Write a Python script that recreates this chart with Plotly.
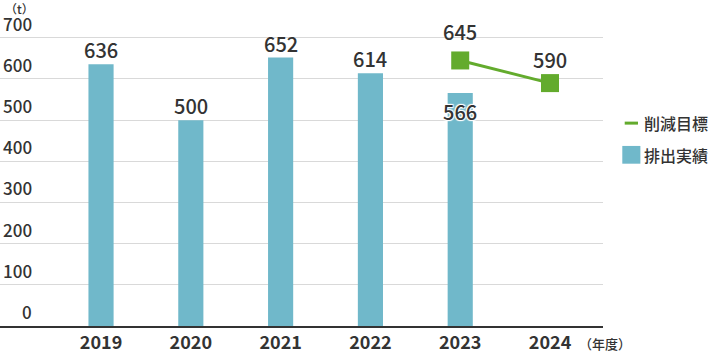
import plotly.graph_objects as go

years = ["2019", "2020", "2021", "2022", "2023", "2024"]
bar_years = ["2019", "2020", "2021", "2022", "2023"]
bar_values = [636, 500, 652, 614, 566]
target_years = ["2023", "2024"]
target_values = [645, 590]
y_ticks = [0, 100, 200, 300, 400, 500, 600, 700]

BLUE = "#70b8ca"
GREEN = "#63ab2d"
TXT = "#333333"
FONT = "Noto Sans CJK JP"
FONT_M = "Noto Sans CJK JP Medium, Noto Sans CJK JP"

fig = go.Figure()
fig.add_trace(go.Bar(x=bar_years, y=bar_values, marker=dict(color=BLUE, line=dict(width=0)),
                     width=0.28, name="排出実績", showlegend=False, hoverinfo="skip"))
fig.add_trace(go.Scatter(x=target_years, y=target_values, mode="lines+markers",
                         line=dict(color=GREEN, width=3),
                         marker=dict(symbol="square", size=18, color=GREEN, line=dict(width=0)),
                         name="削減目標", showlegend=False, hoverinfo="skip"))

HALO = "1px 1px 1px #ffffff, -1px -1px 1px #ffffff, 1px -1px 1px #ffffff, -1px 1px 1px #ffffff"

ann = []
# bar value labels
for x, v in zip(bar_years, bar_values):
    inside = x in target_years
    f = dict(family=FONT_M, size=20, color=TXT)
    if inside:
        f["shadow"] = HALO
    ann.append(dict(x=years.index(x), y=v, xref="x", yref="y", text=str(v), showarrow=False,
                    yanchor="top" if inside else "bottom", borderpad=0,
                    yshift=-3 if inside else -1, font=f))
# target labels
for (x, v), ys in zip(zip(target_years, target_values), [13, 8]):
    ann.append(dict(x=years.index(x), y=v, xref="x", yref="y", text=str(v), showarrow=False,
                    yanchor="bottom", yshift=ys, borderpad=0,
                    font=dict(family=FONT_M, size=20, color=TXT)))
# y tick labels above gridlines
for t in y_ticks:
    ann.append(dict(x=0.054, y=t, xref="paper", yref="y", text=str(t), showarrow=False,
                    xanchor="right", yanchor="bottom", yshift=1, borderpad=0,
                    font=dict(family=FONT_M, size=17, color=TXT)))
# unit labels
ann.append(dict(x=0.033, y=1.0, xref="paper", yref="paper", text="（t）", showarrow=False,
                xanchor="center", yanchor="middle", borderpad=0, yshift=1,
                font=dict(family=FONT_M, size=12, color=TXT)))
ann.append(dict(x=1.003, y=-0.055, xref="paper", yref="paper", text="（年度）", showarrow=False,
                xanchor="center", yanchor="middle",
                font=dict(family=FONT_M, size=13, color=TXT)))
# legend (manual)
ann.append(dict(x=1.065, y=0.64, xref="paper", yref="paper", text="削減目標", showarrow=False,
                xanchor="left", yanchor="middle",
                font=dict(family=FONT_M, size=16, color=TXT)))
ann.append(dict(x=1.065, y=0.54, xref="paper", yref="paper", text="排出実績", showarrow=False,
                xanchor="left", yanchor="middle",
                font=dict(family=FONT_M, size=16, color=TXT)))

shapes = [
    dict(type="line", xref="paper", yref="paper", x0=1.036, x1=1.058, y0=0.64, y1=0.64,
         line=dict(color=GREEN, width=3)),
    dict(type="rect", xref="paper", yref="paper", x0=1.032, x1=1.062, y0=0.512, y1=0.568,
         fillcolor=BLUE, line=dict(width=0)),
]

fig.update_layout(
    width=712, height=351,
    margin=dict(l=0, r=109, t=9, b=25),
    paper_bgcolor="white", plot_bgcolor="white",
    annotations=ann, shapes=shapes,
    xaxis=dict(type="category", categoryorder="array", categoryarray=years,
               range=[-1.125, 5.59], showgrid=False, showline=True, linecolor="#333333",
               linewidth=1.5, ticks="", zeroline=False, automargin=False,
               tickfont=dict(family=FONT, size=18, color=TXT, weight="bold")),
    yaxis=dict(range=[0, 770], tickvals=y_ticks, showticklabels=False, showgrid=True,
               gridcolor="#d9d9d9", gridwidth=1, zeroline=False, showline=False, automargin=False),
    showlegend=False,
)

fig.write_html("out.html")
